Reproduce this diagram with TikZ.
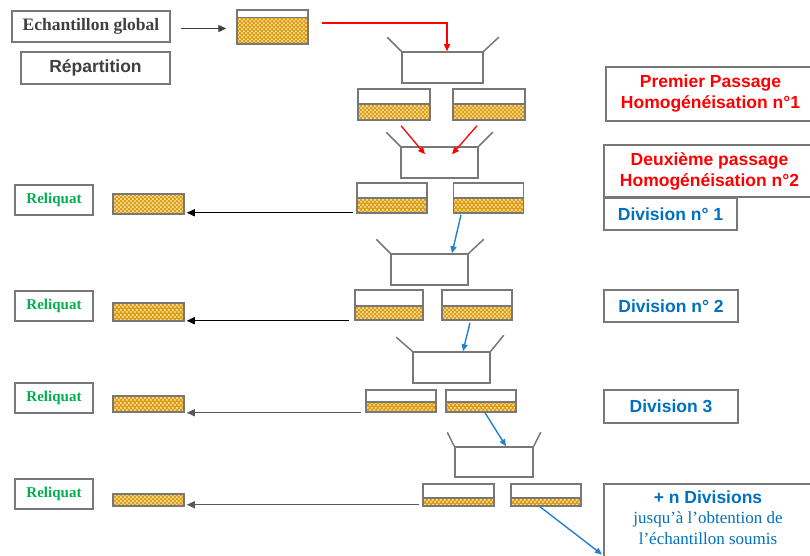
\documentclass[tikz,border=0pt]{standalone}
\usepackage{fontspec}
\setmainfont{Liberation Serif}
\newfontfamily\arialf{Liberation Sans}
\usetikzlibrary{arrows.meta,patterns}
\pgfdeclarepatternformonly{golddots}{\pgfpoint{0pt}{0pt}}{\pgfpoint{4.4pt}{4.4pt}}{\pgfpoint{4.4pt}{4.4pt}}{%
  \pgfpathcircle{\pgfpoint{1.1pt}{1.1pt}}{1.0pt}%
  \pgfpathcircle{\pgfpoint{3.3pt}{3.3pt}}{1.0pt}%
  \pgfusepath{fill}}
\definecolor{lg}{RGB}{120,120,120}
\definecolor{gold}{RGB}{222,158,16}
\definecolor{dk}{RGB}{64,64,64}
\definecolor{myblue}{RGB}{0,112,192}
\definecolor{arrblue}{RGB}{36,128,208}
\definecolor{mygreen}{RGB}{0,176,80}
\definecolor{myred}{RGB}{255,0,0}
\definecolor{arrgray}{RGB}{89,89,89}
\tikzset{
  tbox/.style={draw=lg, line width=1.5pt, inner sep=0pt},
  cont/.style n args={3}{draw=lg, line width=1.5pt, inner sep=0pt,
    minimum width=#1pt, minimum height=#2pt,
    path picture={
      \fill[gold] (path picture bounding box.south west) rectangle ([yshift=#3pt]path picture bounding box.south east);
      \fill[pattern=golddots, pattern color=white!92!yellow] (path picture bounding box.south west) rectangle ([yshift=#3pt]path picture bounding box.south east);
      \draw[lg, line width=1.5pt] ([yshift=#3pt]path picture bounding box.south west) -- ([yshift=#3pt]path picture bounding box.south east);
    }},
  split/.style 2 args={draw=lg, line width=1.5pt, inner sep=0pt, minimum width=#1pt, minimum height=#2pt},
  arm/.style={draw=lg, line width=1.5pt},
  sfbig/.style={font=\arialf\bfseries\fontsize{17.5}{21}\selectfont, align=center},
  relq/.style={tbox, minimum width=78pt, minimum height=30pt, text=mygreen, font=\bfseries\fontsize{15}{18}\selectfont},
  blk/.style={draw=black, line width=1.4pt, -{Triangle[length=8pt,width=7pt]}},
  gry/.style={draw=arrgray, line width=1.2pt, -{Triangle[length=8pt,width=7pt]}},
  rarr/.style={draw=myred, line width=1.3pt, -{Triangle[length=7pt,width=6pt]}},
  barr/.style={draw=arrblue, line width=1.4pt, -{Triangle[length=7pt,width=6pt]}},
}
\begin{document}
\begin{tikzpicture}[x=1pt,y=-1pt]
\useasboundingbox (0,0) rectangle (810,556);
\clip (0,0) rectangle (810,556);
\fill[white] (0,0) rectangle (810,556);

% top-left boxes
\node[tbox, minimum width=158pt, minimum height=31pt, text=dk, font=\bfseries\fontsize{17.5}{21}\selectfont] (ech) at (91,26.5) {Echantillon global};
\node[tbox, minimum width=149pt, minimum height=32pt, text=dk, sfbig] (rep) at (95.5,68) {Répartition};

% containers
\node[cont={71}{34}{26.5}] (c0) at (272.5,27) {};
\node[cont={72}{31}{16}] (r1L) at (394,104.5) {};
\node[cont={72}{31}{16}] (r1R) at (489,104.5) {};
\node[cont={70}{30}{15}] (r2L) at (392,198) {};
\node[cont={70}{30}{15}] (r2R) at (488.5,198) {};
\node[cont={68}{30}{14}] (r3L) at (389,305) {};
\node[cont={70}{30}{14}] (r3R) at (477,305) {};
\node[cont={70}{22}{10}] (r4L) at (401,401) {};
\node[cont={70}{22}{10}] (r4R) at (481,401) {};
\node[cont={71}{22}{8}] (r5L) at (458.5,495) {};
\node[cont={70}{22}{8}] (r5R) at (546,495) {};

% reliquat containers
\node[cont={71}{20}{20}] (q1) at (148.5,204) {};
\node[cont={71}{18}{18}] (q2) at (148.5,312) {};
\node[cont={71}{16}{16}] (q3) at (148.5,404) {};
\node[cont={71}{12}{12}] (q4) at (148.5,500) {};

% reliquat labels
\node[relq] (rq1) at (54,200) {Reliquat};
\node[relq] (rq2) at (54,306) {Reliquat};
\node[relq] (rq3) at (54,398) {Reliquat};
\node[relq] (rq4) at (54,494) {Reliquat};

% splitters
\node[split={81}{31}] (s1) at (442.5,67.5) {};
\draw[arm] (s1.north west) -- ++(-14,-14);
\draw[arm] (s1.north east) -- ++(15,-14);
\node[split={77}{31}] (s2) at (439.5,162.5) {};
\draw[arm] (s2.north west) -- ++(-14,-14);
\draw[arm] (s2.north east) -- ++(14,-14);
\node[split={77}{31}] (s3) at (429.5,269.5) {};
\draw[arm] (s3.north west) -- ++(-14,-14);
\draw[arm] (s3.north east) -- ++(15,-14);
\node[split={77}{31}] (s4) at (451.5,367.5) {};
\draw[arm] (s4.north west) -- ++(-16,-14);
\draw[arm] (s4.north east) -- ++(13,-16);
\node[split={78}{30}] (s5) at (494,462) {};
\draw[arm] (s5.north west) -- ++(-7,-14);
\draw[arm] (s5.north east) -- ++(7,-14);

% right labels
\node[tbox, minimum width=209pt, minimum height=54pt, text=myred, sfbig] (L1) at (710.5,94) {Premier Passage\\Homogénéisation n°1};
\node[tbox, minimum width=211pt, minimum height=52pt, text=myred, sfbig] (L2) at (709.5,171) {Deuxième passage\\Homogénéisation n°2};
\node[tbox, minimum width=133pt, minimum height=32pt, text=myblue, sfbig] (D1) at (670.5,214) {Division n° 1};
\node[tbox, minimum width=134pt, minimum height=32pt, text=myblue, sfbig] (D2) at (671,306) {Division n° 2};
\node[tbox, minimum width=134pt, minimum height=33pt, text=myblue, sfbig] (D3) at (671,406.5) {Division 3};
\node[tbox, anchor=north west, minimum width=212pt, minimum height=90pt] (dnbox) at (603,483) {};
\node[anchor=north, align=center, inner sep=0pt, text=myblue, font=\fontsize{17}{20.5}\selectfont] (dntext) at (708,490.5)
  {{\arialf\bfseries\fontsize{17.5}{21}\selectfont + n Divisions}\\jusqu’à l’obtention de\\l’échantillon soumis};
\coordinate (dnend) at ([xshift=-1pt,yshift=20pt]dnbox.south west);

% connectors
\draw[draw=dk, line width=1.3pt, -{Triangle[length=8pt,width=7pt]}] ([xshift=10pt,yshift=-2pt]ech.east) -- ([xshift=-10pt,yshift=-2pt]ech.east -| c0.west);
\draw[rarr] ([xshift=13pt,yshift=4pt]c0.east) -| ([xshift=4.5pt]s1.north);
\draw[rarr] ([xshift=7pt,yshift=-5pt]r1L.south) -- ([xshift=-14.5pt,yshift=-8pt]s2.north);
\draw[rarr] ([xshift=-12pt,yshift=-5pt]r1R.south) -- ([xshift=12.5pt,yshift=-8pt]s2.north);
\draw[barr] ([xshift=-27.5pt,yshift=-1pt]r2R.south) -- ([xshift=22.5pt]s3.north);
\draw[barr] ([xshift=-7pt,yshift=-2pt]r3R.south) -- ([xshift=11.5pt]s4.north);
\draw[barr] ([xshift=4pt]r4R.south) -- ([xshift=12pt]s5.north);
\draw[barr] ([xshift=-6pt]r5R.south) -- (dnend);

\coordinate (k1s) at ([xshift=-3pt,yshift=1pt]r2L.south west);
\coordinate (k2s) at ([xshift=-5pt]r3L.south west);
\coordinate (k3s) at ([xshift=-4pt]r4L.south west);
\coordinate (k4s) at ([xshift=-3pt,yshift=2pt]r5L.south west);
\draw[blk, shorten >=2pt] (k1s) -- (k1s -| q1.east);
\draw[blk, shorten >=2pt] (k2s) -- (k2s -| q2.east);
\draw[gry, shorten >=2pt] (k3s) -- (k3s -| q3.east);
\draw[gry, shorten >=2pt] (k4s) -- (k4s -| q4.east);
\end{tikzpicture}
\end{document}
